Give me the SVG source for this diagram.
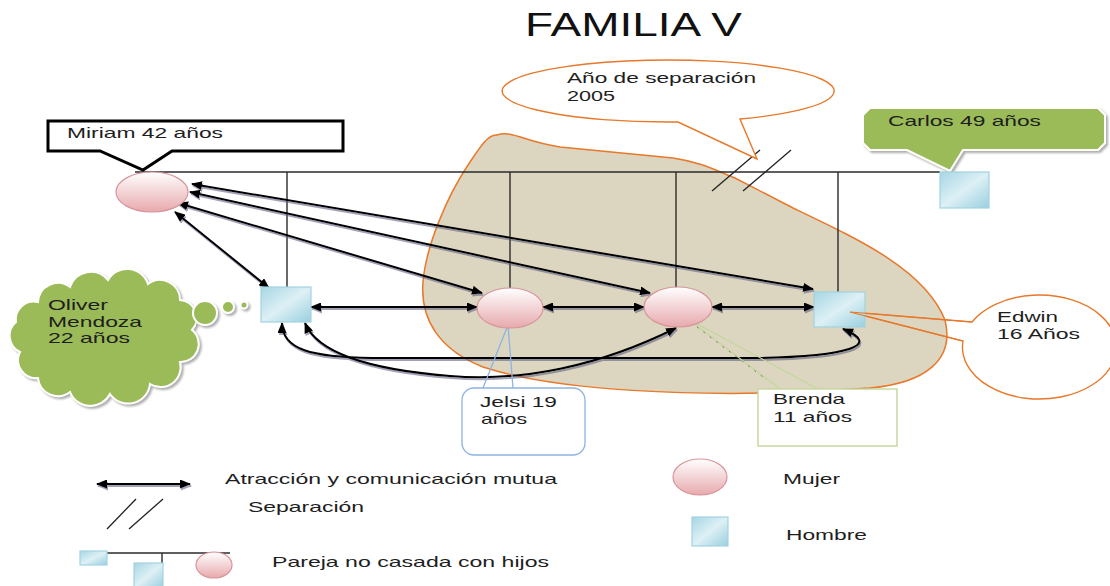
<svg xmlns="http://www.w3.org/2000/svg" width="1110" height="586" viewBox="0 0 1110 586">
<defs>
  <linearGradient id="pink" x1="0" y1="0" x2="0" y2="1">
    <stop offset="0" stop-color="#ffffff"/>
    <stop offset="1" stop-color="#e7a9ad"/>
  </linearGradient>
  <linearGradient id="blue" x1="0" y1="0" x2="1" y2="1">
    <stop offset="0" stop-color="#a6d6e4"/>
    <stop offset="0.5" stop-color="#ddf0f5"/>
    <stop offset="1" stop-color="#99cfdf"/>
  </linearGradient>
  <marker id="ah" markerUnits="userSpaceOnUse" markerWidth="11" markerHeight="9" refX="10" refY="4.5" orient="auto-start-reverse">
    <path d="M0,0 L11,4.5 L0,9 Z" fill="#000"/>
  </marker>
  <filter id="sh" filterUnits="userSpaceOnUse" x="0" y="0" width="1110" height="586">
    <feDropShadow dx="1" dy="2" stdDeviation="0.6" flood-color="#55557a" flood-opacity="0.55"/>
  </filter>
  <filter id="sh2" filterUnits="userSpaceOnUse" x="0" y="0" width="1110" height="586">
    <feDropShadow dx="2" dy="2" stdDeviation="0.8" flood-color="#777" flood-opacity="0.6"/>
  </filter>
</defs>
<style>
  text { font-family: "Liberation Sans", Arial, sans-serif; font-size: 15px; fill: #1e1e1e; }
  .title { font-size: 33px; fill: #111; }
  .female { fill: url(#pink); stroke: #d8959a; stroke-width: 1.2; }
  .male { fill: url(#blue); stroke: #a3d3e0; stroke-width: 1.2; }
  .rel { fill: none; stroke: #000; stroke-width: 2; marker-start: url(#ah); marker-end: url(#ah); }
  .fam { fill: none; stroke: #2a2a2a; stroke-width: 1.4; }
  .hash { stroke: #222; stroke-width: 1.3; }
  .orange { fill: none; stroke: #e8782a; stroke-width: 1.4; }
  .green { fill: #9bbb59; stroke: #ffffff; stroke-width: 2; filter: url(#sh2); }
</style>

<rect width="1110" height="586" fill="#fff"/>

<text class="title" x="525" y="36" textLength="217" lengthAdjust="spacingAndGlyphs">FAMILIA V</text>

<!-- separation region -->
<g id="region-separacion">
  <path d="M 497 135 C 512 130 525 142 560 147 L 673 158 C 700 162 715 170 735 178 L 793 208 C 860 240 925 270 945 320 C 955 360 925 383 870 388 L 800 392 C 700 396 560 392 483 367 C 440 350 420 320 423 282 C 426 245 448 195 468 165 C 480 147 488 134 497 135 Z" fill="#dcd6c0" stroke="#e8782a" stroke-width="1.5"/>
</g>

<!-- family lines -->
<g id="family-lines">
  <line class="fam" x1="135" y1="172" x2="940" y2="172"/>
  <line class="fam" x1="287" y1="172" x2="287" y2="287"/>
  <line class="fam" x1="510" y1="172" x2="510" y2="288"/>
  <line class="fam" x1="676" y1="172" x2="676" y2="288"/>
  <line class="fam" x1="838" y1="172" x2="838" y2="292"/>
</g>

<g id="separation-mark">
  <line class="hash" x1="712" y1="191" x2="760" y2="150"/>
  <line class="hash" x1="743" y1="191" x2="791" y2="150"/>
</g>

<!-- callouts -->
<g id="callout-separacion">
  <path d="M 740 119 A 166 31 0 1 0 678 122 L 757 159 Z" class="orange" style="fill:#fff"/>
  <text x="567" y="83" textLength="189" lengthAdjust="spacingAndGlyphs">Año de separación</text>
  <text x="567" y="101" textLength="48" lengthAdjust="spacingAndGlyphs">2005</text>
</g>

<g id="callout-miriam">
  <path d="M 48 121 L 343 121 L 343 151 L 172 151 L 143 170 L 100 151 L 48 151 Z" fill="#fff" stroke="#000" stroke-width="3" stroke-linejoin="miter"/>
  <text x="67" y="138" textLength="156" lengthAdjust="spacingAndGlyphs">Miriam 42 años</text>
</g>

<g id="callout-carlos">
  <path class="green" d="M 870 108 L 1098 108 L 1105 115 L 1105 143 L 1098 150 L 963 150 L 950 171 L 907 150 L 870 150 L 863 143 L 863 115 Z"/>
  <text x="888" y="126" textLength="153" lengthAdjust="spacingAndGlyphs">Carlos 49 años</text>
</g>

<g id="callout-oliver">
  <path class="green" d="M 38 302 A 20 20 0 0 1 70 287 A 22 22 0 0 1 108 280 A 22 22 0 0 1 148 284 A 20 20 0 0 1 180 300 A 18 18 0 0 1 192 330 A 18 18 0 0 1 180 362 A 20 20 0 0 1 150 384 A 22 22 0 0 1 110 394 A 22 22 0 0 1 70 392 A 20 20 0 0 1 38 378 A 18 18 0 0 1 20 352 A 18 18 0 0 1 16 322 A 18 18 0 0 1 38 302 Z"/>
  <circle class="green" cx="205" cy="313" r="12"/>
  <circle class="green" cx="228" cy="307" r="6"/>
  <circle class="green" cx="244" cy="305" r="3.5"/>
  <text x="48" y="310" textLength="60" lengthAdjust="spacingAndGlyphs">Oliver</text>
  <text x="48" y="327" textLength="94" lengthAdjust="spacingAndGlyphs">Mendoza</text>
  <text x="48" y="343" textLength="82" lengthAdjust="spacingAndGlyphs">22 años</text>
</g>

<g id="callout-edwin">
  <path class="orange" d="M 972 322 A 77 52 0 1 1 963 341 L 850 312 Z"/>
  <text x="997" y="322" textLength="61" lengthAdjust="spacingAndGlyphs">Edwin</text>
  <text x="997" y="339" textLength="83" lengthAdjust="spacingAndGlyphs">16 Años</text>
</g>

<!-- connectors -->
<g id="connectors" filter="url(#sh)">
  <path class="rel" d="M 192 184 L 813 289"/>
  <path class="rel" d="M 190 192 L 650 293"/>
  <path class="rel" d="M 178 203 L 482 293"/>
  <path class="rel" d="M 175 212 L 269 288"/>
  <path class="rel" d="M 311 307 L 477 307"/>
  <path class="rel" d="M 543 307 L 644 307"/>
  <path class="rel" d="M 712 307 L 814 307"/>
  <path class="rel" d="M 282 323 C 282 350 312 357 372 358 L 760 358 C 850 356 882 345 843 329"/>
  <path class="rel" d="M 305 323 C 316 350 362 369 450 376 C 522 382 600 366 676 328"/>
</g>

<g id="callout-jelsi">
  <path d="M 483 388 L 508 325 L 513 388" fill="none" stroke="#8db3e2" stroke-width="1.3"/>
  <rect x="462" y="388" width="123" height="67" rx="12" fill="#fff" stroke="#8db3e2" stroke-width="1.3"/>
  <text x="480" y="407" textLength="77" lengthAdjust="spacingAndGlyphs">Jelsi 19</text>
  <text x="481" y="424" textLength="46" lengthAdjust="spacingAndGlyphs">años</text>
</g>

<g id="callout-brenda">
  <path d="M 780 389 L 688 319 L 818 389" fill="none" stroke="#c3d69b" stroke-width="1.2"/>
  <line x1="697" y1="327" x2="767" y2="380" stroke="#777" stroke-width="1" stroke-dasharray="2 6"/>
  <rect x="758" y="389" width="139" height="57" fill="#fff" stroke="#c3d69b" stroke-width="1.4"/>
  <text x="773" y="404" textLength="72" lengthAdjust="spacingAndGlyphs">Brenda</text>
  <text x="773" y="422" textLength="79" lengthAdjust="spacingAndGlyphs">11 años</text>
</g>

<!-- persons -->
<g id="miriam"><ellipse class="female" cx="152" cy="192" rx="36" ry="20"/></g>
<g id="oliver"><rect class="male" x="261" y="287" width="50" height="35"/></g>
<g id="jelsi"><ellipse class="female" cx="510" cy="308" rx="33" ry="20"/></g>
<g id="brenda"><ellipse class="female" cx="678" cy="307" rx="34" ry="20"/></g>
<g id="edwin"><rect class="male" x="814" y="292" width="51" height="35"/></g>
<g id="carlos"><rect class="male" x="940" y="172" width="49" height="36"/></g>
<line x1="850" y1="312" x2="972" y2="322" stroke="#e8782a" stroke-width="1.2"/>
<line x1="850" y1="312" x2="963" y2="341" stroke="#e8782a" stroke-width="1.2"/>

<!-- legend -->
<g id="legend">
  <g filter="url(#sh)"><path class="rel" d="M 97 484 L 190 484"/></g>
  <text x="225" y="484" textLength="332" lengthAdjust="spacingAndGlyphs">Atracción y comunicación mutua</text>
  <line class="hash" x1="107" y1="529" x2="136" y2="499"/>
  <line class="hash" x1="129" y1="529" x2="163" y2="499"/>
  <text x="248" y="512" textLength="116" lengthAdjust="spacingAndGlyphs">Separación</text>
  <line class="fam" x1="107" y1="553" x2="230" y2="553"/>
  <line class="fam" x1="162" y1="553" x2="162" y2="563"/>
  <rect class="male" x="80" y="551" width="27" height="14"/>
  <rect class="male" x="134" y="563" width="29" height="25"/>
  <ellipse class="female" cx="214" cy="565" rx="18" ry="13"/>
  <text x="272" y="567" textLength="277" lengthAdjust="spacingAndGlyphs">Pareja no casada con hijos</text>
  <ellipse class="female" cx="700" cy="477" rx="27" ry="18"/>
  <text x="783" y="484" textLength="57" lengthAdjust="spacingAndGlyphs">Mujer</text>
  <rect class="male" x="692" y="517" width="36" height="29"/>
  <text x="786" y="540" textLength="81" lengthAdjust="spacingAndGlyphs">Hombre</text>
</g>
</svg>
